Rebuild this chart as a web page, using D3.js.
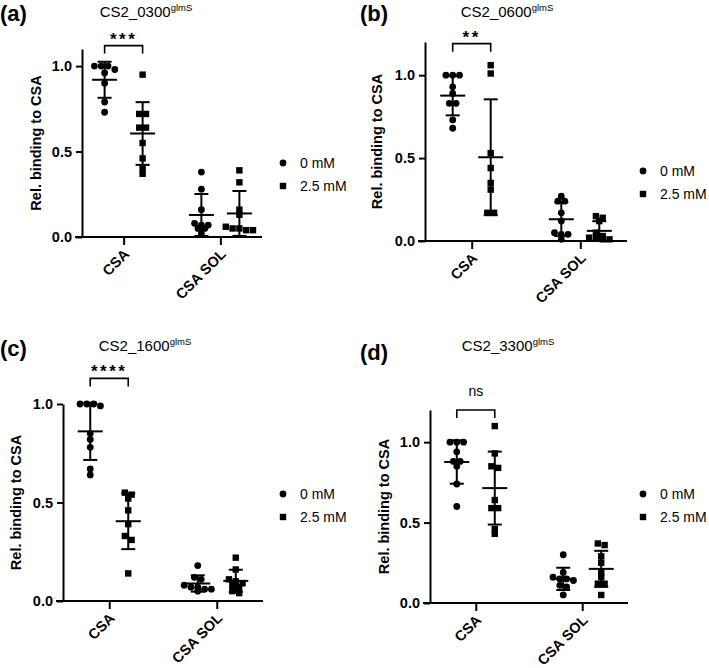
<!DOCTYPE html>
<html>
<head>
<meta charset="utf-8">
<script src="https://cdn.jsdelivr.net/npm/d3@7"></script>
<style>
  html, body { margin: 0; padding: 0; background: #fff; }
  svg { display: block; font-family: "Liberation Sans", Arial, sans-serif; }
</style>
</head>
<body>
<svg id="chart" width="709" height="668"></svg>
<script>
// ---------------- DATA ----------------
const categories = ["CSA", "CSA SOL"];
const seriesNames = ["0 mM", "2.5 mM"];
const yTickValues = [0, 0.5, 1.0];
const panelLetters = ["(a)", "(b)", "(c)", "(d)"];
const strainNames = ["CS2_0300", "CS2_0600", "CS2_1600", "CS2_3300"];
const strainSuffix = "glmS";
const significance = ["***", "**", "****", "ns"];
const bracketLevel = [1.12, 1.19, 1.13, 1.2];
const yMaxValues = [1.1, 1.2, 1.0, 1.2];

// panel (a) CS2_0300
const a_CSA_0   = [1.0, 1.0, 1.0, 0.98, 0.96, 0.90, 0.79, 0.73];
const a_CSA_25  = [0.95, 0.72, 0.72, 0.64, 0.64, 0.55, 0.46, 0.40, 0.37];
const a_SOL_0   = [0.38, 0.28, 0.16, 0.08, 0.07, 0.07, 0.05, 0.05, 0.02];
const a_SOL_25  = [0.39, 0.32, 0.16, 0.13, 0.06, 0.05, 0.05, 0.04, 0.04];
// panel (b) CS2_0600
const b_CSA_0   = [1.0, 1.0, 1.0, 0.93, 0.89, 0.83, 0.83, 0.73, 0.68];
const b_CSA_25  = [1.06, 1.01, 0.53, 0.44, 0.35, 0.31, 0.17, 0.17];
const b_SOL_0   = [0.27, 0.24, 0.24, 0.17, 0.12, 0.05, 0.04, 0.04, 0.01];
const b_SOL_25  = [0.15, 0.14, 0.12, 0.05, 0.03, 0.02, 0.02, 0.01, 0.01];
// panel (c) CS2_1600
const c_CSA_0   = [1.0, 1.0, 1.0, 0.99, 0.85, 0.82, 0.78, 0.67, 0.64];
const c_CSA_25  = [0.55, 0.54, 0.52, 0.46, 0.39, 0.33, 0.31, 0.14];
const c_SOL_0   = [0.18, 0.12, 0.11, 0.08, 0.07, 0.07, 0.06, 0.06, 0.05];
const c_SOL_25  = [0.22, 0.16, 0.11, 0.10, 0.09, 0.08, 0.07, 0.05, 0.04];
// panel (d) CS2_3300
const d_CSA_0   = [1.0, 1.0, 1.0, 0.94, 0.88, 0.88, 0.85, 0.74, 0.60];
const d_CSA_25  = [1.10, 0.93, 0.85, 0.84, 0.64, 0.59, 0.59, 0.46, 0.43];
const d_SOL_0   = [0.30, 0.19, 0.16, 0.15, 0.15, 0.14, 0.11, 0.10, 0.05];
const d_SOL_25  = [0.37, 0.36, 0.29, 0.25, 0.19, 0.16, 0.12, 0.12, 0.05];

const panelData = [
  [[a_CSA_0, a_CSA_25], [a_SOL_0, a_SOL_25]],
  [[b_CSA_0, b_CSA_25], [b_SOL_0, b_SOL_25]],
  [[c_CSA_0, c_CSA_25], [c_SOL_0, c_SOL_25]],
  [[d_CSA_0, d_CSA_25], [d_SOL_0, d_SOL_25]]
];

// ---------------- LAYOUT ----------------
const layout = [
  { axisX: 82,  xEnd: 262, yBase: 237, yTop: 49,  title: [146, 17],  letter: [0, 21],   ylab: 37,  legend: [283, 163] },
  { axisX: 425, xEnd: 627, yBase: 241, yTop: 42,  title: [507, 17],  letter: [360, 21], ylab: 378, legend: [643, 171] },
  { axisX: 63,  xEnd: 263, yBase: 601, yTop: 404, title: [145, 351], letter: [0, 356],  ylab: 17,  legend: [283, 494] },
  { axisX: 430, xEnd: 628, yBase: 603, yTop: 410, title: [508, 351], letter: [360, 360], ylab: 385, legend: [643, 494] }
];

const svg = d3.select("#chart");
const FONT = '"Liberation Sans", Arial, sans-serif';
const R = 3.4, SQ = 6.4, SPACING = 6.8;

function swarmOffsets(vals, y, d) {
  const idx = d3.range(vals.length).sort((p, q) => vals[q] - vals[p]);
  const off = new Array(vals.length).fill(0);
  let row = [], start = null;
  const flush = () => row.forEach((k, i) => off[k] = (i - (row.length - 1) / 2) * d);
  idx.forEach(k => {
    const py = y(vals[k]);
    if (start === null || py - start > d * 0.7) { flush(); row = [k]; start = py; }
    else row.push(k);
  });
  flush();
  return off;
}

function drawMarker(g, s, cx, cy) {
  if (s === 0) {
    g.append("circle").attr("cx", cx).attr("cy", cy).attr("r", R).attr("fill", "#000");
  } else {
    g.append("rect").attr("x", cx - SQ / 2).attr("y", cy - SQ / 2)
      .attr("width", SQ).attr("height", SQ).attr("fill", "#000");
  }
}

layout.forEach((L, p) => {
  const g = svg.append("g");
  const y = d3.scaleLinear().domain([0, yMaxValues[p]]).range([L.yBase, L.yTop]);
  const x = d3.scalePoint().domain(categories).range([L.axisX, L.xEnd]).padding(0.43);
  const xs = d3.scalePoint().domain(seriesNames).range([-19, 19]);

  // y axis
  const ya = g.append("g").attr("transform", `translate(${L.axisX},0)`)
    .call(d3.axisLeft(y).tickValues(yTickValues).tickFormat(d3.format(".1f")).tickSize(6).tickSizeOuter(0).tickPadding(4));
  ya.select(".domain").attr("stroke-width", 2).attr("stroke", "#000");
  ya.selectAll(".tick line").attr("stroke-width", 2).attr("stroke", "#000");
  ya.selectAll(".tick text").attr("font-family", FONT).attr("font-size", 14.5)
    .attr("font-weight", "bold").attr("fill", "#000");

  // x axis
  const xa = g.append("g").attr("transform", `translate(0,${L.yBase})`)
    .call(d3.axisBottom(x).tickSize(8).tickSizeOuter(0));
  xa.select(".domain").attr("stroke-width", 2).attr("stroke", "#000").attr("d", `M${L.axisX - 7},0H${L.xEnd}`);
  xa.selectAll(".tick line").attr("stroke-width", 2).attr("stroke", "#000");
  xa.selectAll(".tick text").remove();
  xa.selectAll(".tick").append("text")
    .attr("transform", "translate(6,18) rotate(-45)")
    .attr("text-anchor", "end")
    .attr("font-family", FONT).attr("font-size", 14.5).attr("font-weight", "bold")
    .attr("fill", "#000").text(d => d);

  // data points and mean ± SD
  categories.forEach((cat, ci) => {
    seriesNames.forEach((sn, si) => {
      const vals = panelData[p][ci][si];
      const cx = x(cat) + xs(sn);
      const offs = swarmOffsets(vals, y, SPACING);
      vals.forEach((v, i) => drawMarker(g, si, cx + offs[i], y(v)));
      const m = d3.mean(vals), sd = d3.deviation(vals);
      const line = (x1, y1, x2, y2) => g.append("line").attr("x1", x1).attr("y1", y1)
        .attr("x2", x2).attr("y2", y2).attr("stroke", "#000").attr("stroke-width", 2);
      line(cx - 12.5, y(m), cx + 12.5, y(m));
      line(cx, y(m - sd), cx, y(m + sd));
      line(cx - 7, y(m - sd), cx + 7, y(m - sd));
      line(cx - 7, y(m + sd), cx + 7, y(m + sd));
    });
  });

  // significance bracket
  const bx1 = x(categories[0]) + xs(seriesNames[0]);
  const bx2 = x(categories[0]) + xs(seriesNames[1]);
  const by = y(bracketLevel[p]);
  g.append("path").attr("d", `M${bx1},${by + 8}V${by}H${bx2}V${by + 8}`)
    .attr("fill", "none").attr("stroke", "#000").attr("stroke-width", 1.6);
  const isNs = significance[p] === "ns";
  g.append("text").attr("x", (bx1 + bx2) / 2).attr("y", isNs ? by - 14 : by - 1)
    .attr("text-anchor", "middle").attr("font-family", FONT)
    .attr("font-size", isNs ? 14 : 17).attr("font-weight", isNs ? "normal" : "bold")
    .attr("letter-spacing", isNs ? 0 : 2.5)
    .attr("fill", "#000").text(significance[p]);

  // y axis title
  g.append("text")
    .attr("transform", `translate(${L.ylab},${(L.yBase + L.yTop) / 2}) rotate(-90)`)
    .attr("text-anchor", "middle").attr("dominant-baseline", "middle")
    .attr("font-family", FONT).attr("font-size", 14.5).attr("font-weight", "bold")
    .attr("fill", "#000").text("Rel. binding to CSA");

  // title
  const t = g.append("text").attr("x", L.title[0]).attr("y", L.title[1])
    .attr("text-anchor", "middle").attr("font-family", FONT).attr("font-size", 15).attr("fill", "#000");
  t.append("tspan").text(strainNames[p]);
  t.append("tspan").attr("font-size", 9.5).attr("dy", -6).text(strainSuffix);

  // panel letter
  g.append("text").attr("x", L.letter[0]).attr("y", L.letter[1])
    .attr("font-family", FONT).attr("font-size", 22).attr("font-weight", "bold")
    .attr("fill", "#000").text(panelLetters[p]);

  // legend
  seriesNames.forEach((sn, si) => {
    const ly = L.legend[1] + si * 23;
    drawMarker(g, si, L.legend[0], ly);
    g.append("text").attr("x", L.legend[0] + 17).attr("y", ly + 5)
      .attr("font-family", FONT).attr("font-size", 14).attr("fill", "#000").text(sn);
  });
});
</script>
</body>
</html>
